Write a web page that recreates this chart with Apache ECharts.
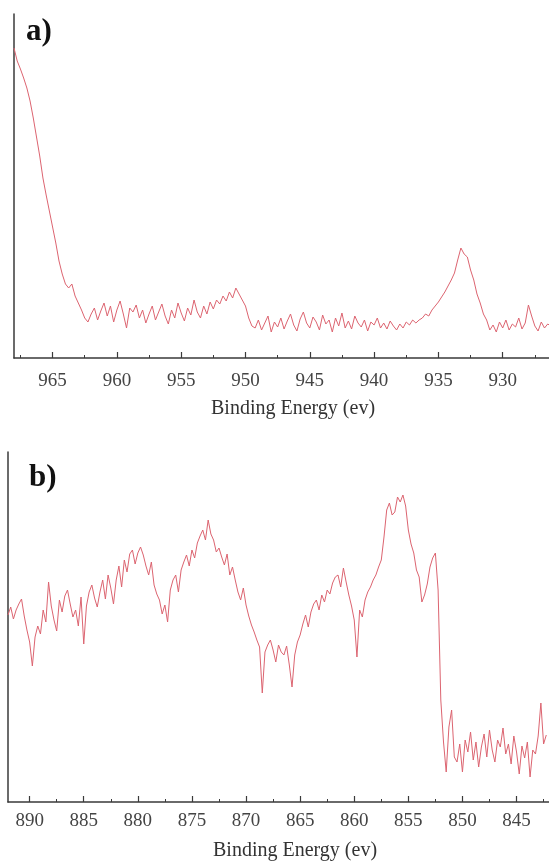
<!DOCTYPE html>
<html>
<head>
<meta charset="utf-8">
<script src="https://cdn.jsdelivr.net/npm/echarts@6/dist/echarts.min.js"></script>
<style>
html,body{margin:0;padding:0;background:#fff;}
#chart{width:549px;height:861px;}
</style>
</head>
<body>
<div id="chart"></div>
<script>
// Panel a) : Cu 2p region, sampled every 0.25 eV starting at 968 eV
const startA = 968, stepA = 0.25;
const intensityA = [
  310, 297, 289, 280, 270, 257, 240, 221, 202, 180, 163, 147, 131, 115, 97, 84, 74, 70, 74, 62, 55, 48, 40, 36,
  44, 50, 38, 47, 55, 42, 52, 36, 48, 57, 44, 30, 50, 46, 53, 40, 48, 35, 44, 52,
  38, 46, 54, 42, 34, 48, 40, 55, 45, 37, 50, 43, 58, 46, 40, 52, 44, 56, 49, 58,
  54, 62, 57, 66, 60, 70, 64, 58, 52, 40, 32,
  30, 38, 28, 35, 42, 26, 36, 31, 40, 29, 37, 44, 33, 27, 39, 46, 35, 30, 41, 36,
  28, 43, 34, 38, 26, 40, 32, 45, 30, 37, 29, 42, 35, 31, 38, 27, 36, 33, 40, 30,
  35, 29, 37, 32, 28, 34, 30, 36, 33, 38, 35,
  38, 40, 44, 42, 48, 52, 56, 61, 66, 72, 78, 85, 98, 110, 104, 101, 88, 78, 64, 55, 44, 38,
  28, 33, 26, 36, 30, 38, 28, 34, 31, 40, 29, 35, 53, 42, 32, 27, 36, 30, 34, 32
];
// Panel b) : Ni 2p region, sampled every 0.25 eV starting at 892 eV
const startB = 892, stepB = 0.25;
const intensityB = [
  187, 195, 183, 192, 198, 203, 186, 172, 160, 136,
  165, 176, 168, 192, 180, 220, 196, 182, 171, 202,
  190, 206, 212, 198, 185, 192, 176, 205, 158, 196,
  210, 217, 204, 195, 210, 222, 203, 227, 214, 198,
  222, 236, 215, 242, 230, 248, 252, 238, 249, 255,
  247, 236, 227, 240, 217, 208, 202, 188, 197, 180,
  212, 222, 227, 210, 232, 240, 247, 236, 252, 244,
  259, 266, 272, 262, 282, 268, 262, 250, 254, 245,
  237, 248, 227, 235, 222, 210, 202, 214, 197, 186,
  177, 170, 162, 155, 109, 150, 157, 162, 152, 140,
  157, 150, 147, 156, 137, 115, 147, 160, 167, 178,
  187, 175, 190, 198, 202, 192, 207, 200, 212, 208,
  219, 225, 227, 215, 234, 220, 207, 196, 182, 145,
  192, 185, 202, 210, 215, 222, 227, 235, 242, 265,
  292, 299, 287, 290, 305, 300, 307, 296, 272, 258,
  249, 232, 225, 200, 207, 218, 235, 244, 249, 212,
  102, 60, 30, 75, 92, 45, 40, 58, 30, 62,
  50, 70, 42, 60, 35, 55, 68, 45, 72, 52,
  40, 62, 55, 74, 48, 58, 38, 66, 50, 28,
  56, 44, 60, 25, 52, 48, 66, 99, 58, 67
];
const majorTicksA = [930, 935, 940, 945, 950, 955, 960, 965];
const minorTicksA = [927.5, 932.5, 937.5, 942.5, 947.5, 952.5, 957.5, 962.5, 967.5];
const majorTicksB = [845, 850, 855, 860, 865, 870, 875, 880, 885, 890];
const minorTicksB = [842.5, 847.5, 852.5, 857.5, 862.5, 867.5, 872.5, 877.5, 882.5, 887.5];
const axisTitle = 'Binding Energy (ev)';

const dataA = intensityA.map((v, i) => [startA - i * stepA, v]);
const dataB = intensityB.map((v, i) => [startB - i * stepB, v]);

const serif = '"Liberation Serif", "DejaVu Serif", serif';
const axisColor = '#3a3a3a';
const lineColor = '#dc6470';

function mainX(grid, min, max, ticks, margin) {
  return {
    type: 'value', gridIndex: grid, min: min, max: max, inverse: true,
    axisLine: { show: true, onZero: false, lineStyle: { color: axisColor, width: 1.5 } },
    axisTick: { show: true, inside: true, length: 6, customValues: ticks, lineStyle: { color: axisColor, width: 1.2 } },
    axisLabel: { show: true, customValues: ticks, margin: margin, color: '#444', fontFamily: serif, fontSize: 19 },
    splitLine: { show: false }
  };
}
function minorX(grid, min, max, ticks) {
  return {
    type: 'value', gridIndex: grid, min: min, max: max, inverse: true, position: 'bottom',
    axisLine: { show: false },
    axisTick: { show: true, inside: true, length: 3, customValues: ticks, lineStyle: { color: axisColor, width: 1 } },
    axisLabel: { show: false },
    splitLine: { show: false }
  };
}
function yAx(grid, max) {
  return {
    type: 'value', gridIndex: grid, min: 0, max: max,
    axisLine: { show: true, lineStyle: { color: axisColor, width: 1.5 } },
    axisTick: { show: false }, axisLabel: { show: false }, splitLine: { show: false }
  };
}

const chart = echarts.init(document.getElementById('chart'), null, { renderer: 'canvas' });
chart.setOption({
  animation: false,
  backgroundColor: '#fff',
  grid: [
    { left: 14, top: 14, width: 535, height: 344 },
    { left: 8, top: 452, width: 541, height: 350 }
  ],
  xAxis: [
    mainX(0, 926.4, 968, majorTicksA, 14),
    minorX(0, 926.4, 968, minorTicksA),
    mainX(1, 842, 892, majorTicksB, 10),
    minorX(1, 842, 892, minorTicksB)
  ],
  yAxis: [yAx(0, 344), yAx(1, 350)],
  series: [
    { type: 'line', xAxisIndex: 0, yAxisIndex: 0, data: dataA, showSymbol: false,
      lineStyle: { color: lineColor, width: 1 } },
    { type: 'line', xAxisIndex: 2, yAxisIndex: 1, data: dataB, showSymbol: false,
      lineStyle: { color: lineColor, width: 1 } }
  ],
  graphic: [
    { type: 'text', left: 26, top: 16, style: { text: 'a)', font: 'bold 31px ' + serif, fill: '#111' } },
    { type: 'text', left: 29, top: 462, style: { text: 'b)', font: 'bold 31px ' + serif, fill: '#111' } },
    { type: 'text', left: 211, top: 399, style: { text: axisTitle, font: '20px ' + serif, fill: '#333' } },
    { type: 'text', left: 213, top: 841, style: { text: axisTitle, font: '20px ' + serif, fill: '#333' } }
  ]
});
</script>
</body>
</html>
